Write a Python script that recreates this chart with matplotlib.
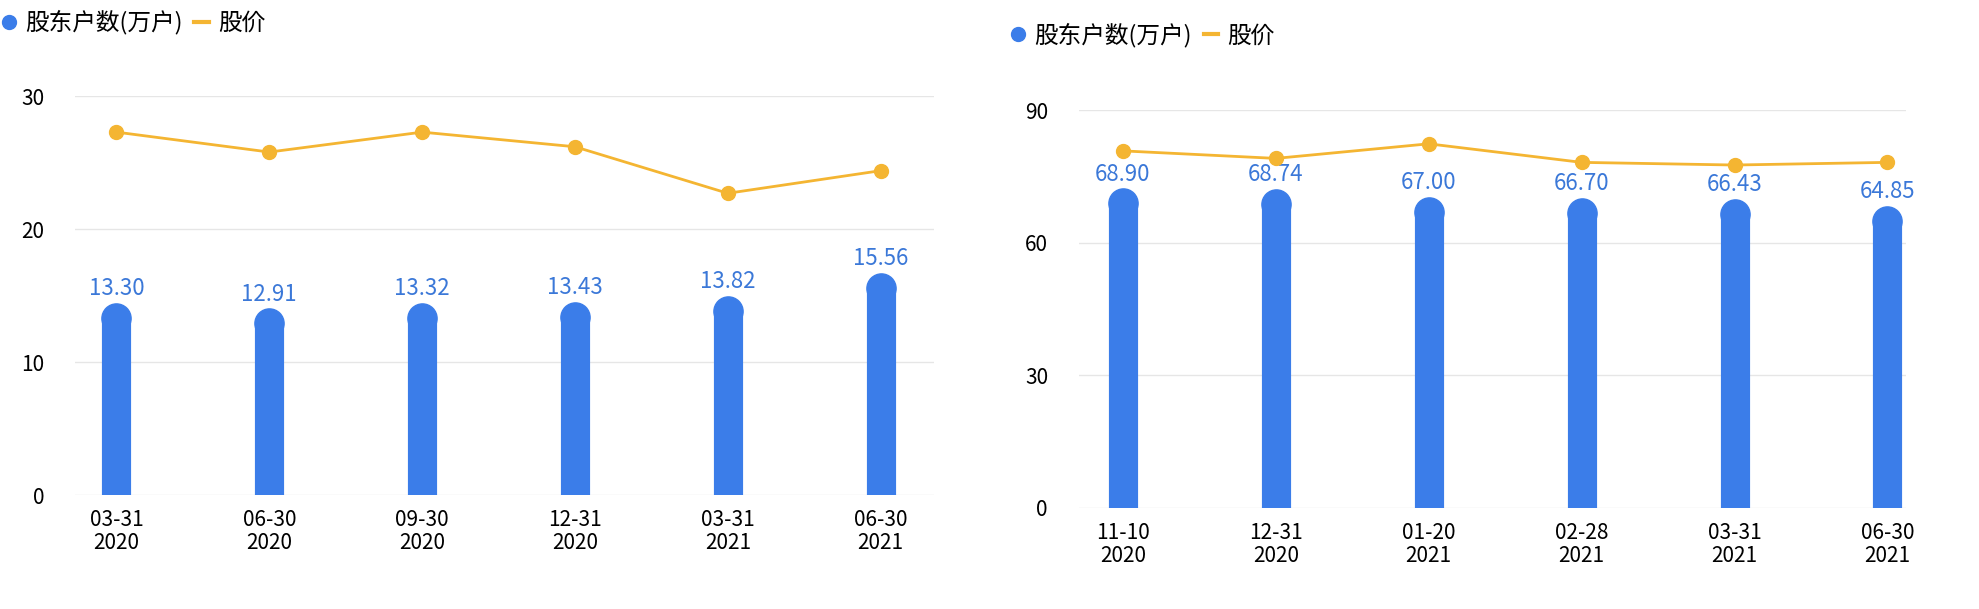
import matplotlib
matplotlib.use("Agg")
import matplotlib.pyplot as plt
from matplotlib import font_manager as fm
from matplotlib.lines import Line2D

fam = "DejaVu Sans"
for f in fm.findSystemFonts():
    if "NotoSansCJK" in f.replace(" ", "") or "NotoSansSC" in f:
        try:
            fm.fontManager.addfont(f)
            fam = fm.FontProperties(fname=f).get_name()
            break
        except Exception:
            pass
plt.rcParams["font.family"] = [fam, "Noto Sans CJK SC", "DejaVu Sans"]

left_cats = ["03-31\n2020", "06-30\n2020", "09-30\n2020", "12-31\n2020", "03-31\n2021", "06-30\n2021"]
left_holders = [13.30, 12.91, 13.32, 13.43, 13.82, 15.56]
left_price = [27.3, 25.8, 27.3, 26.2, 22.7, 24.4]
left_ticks = [0, 10, 20, 30]

right_cats = ["11-10\n2020", "12-31\n2020", "01-20\n2021", "02-28\n2021", "03-31\n2021", "06-30\n2021"]
right_holders = [68.90, 68.74, 67.00, 66.70, 66.43, 64.85]
right_price = [80.8, 79.1, 82.4, 78.2, 77.6, 78.2]
right_ticks = [0, 30, 60, 90]

BAR = "#3b7de9"
LINE = "#f4b532"
W, H = 1979, 609
fig = plt.figure(figsize=(W / 100, H / 100), dpi=100)

def panel(rect, cats, holders, price, ticks, legend_x, legend_y, xlim):
    ax = fig.add_axes(rect)
    x = list(range(len(cats)))
    ax.vlines(x, 0, holders, color=BAR, lw=21, zorder=3)
    ax.plot(x, holders, ls="", marker="o", ms=21 / 1.0 * 0.72 * 1.39, color=BAR, zorder=3)
    for i, v in enumerate(holders):
        ax.text(i, v + ticks[-1] * 0.045, f"{v:.2f}", ha="center", va="bottom",
                color="#3b78d8", fontsize=16)
    ax.plot(x, price, color=LINE, lw=2, marker="o", ms=10, zorder=4, clip_on=False)
    ax.set_ylim(0, ticks[-1])
    ax.set_yticks(ticks)
    ax.set_xlim(*xlim)
    ax.set_xticks(x)
    ax.set_xticklabels(cats, fontsize=15, linespacing=1.05)
    ax.tick_params(axis="y", labelsize=15, length=0, pad=22)
    ax.tick_params(axis="x", length=0, pad=10)
    ax.grid(axis="y", color="#e6e6e6", lw=1, zorder=0)
    for s in ax.spines.values():
        s.set_visible(False)
    handles = [Line2D([], [], marker="o", color=BAR, ls="", ms=10),
               Line2D([], [], color=LINE, lw=3)]
    fig.legend(handles, ["股东户数(万户)", "股价"], loc="center left",
               bbox_to_anchor=(legend_x, legend_y),
               ncol=2, frameon=False, fontsize=17, handlelength=0.6,
               handletextpad=0.4, columnspacing=0.5, borderaxespad=0)
    return ax

panel([0.038, 0.187, 0.434, 0.655], left_cats, left_holders, left_price, left_ticks,
      -0.004, 0.963, (-0.27, 5.35))
panel([0.545, 0.166, 0.418, 0.653], right_cats, right_holders, right_price, right_ticks,
      0.506, 0.942, (-0.29, 5.12))

fig.savefig("out.png", dpi=100, facecolor="white")
